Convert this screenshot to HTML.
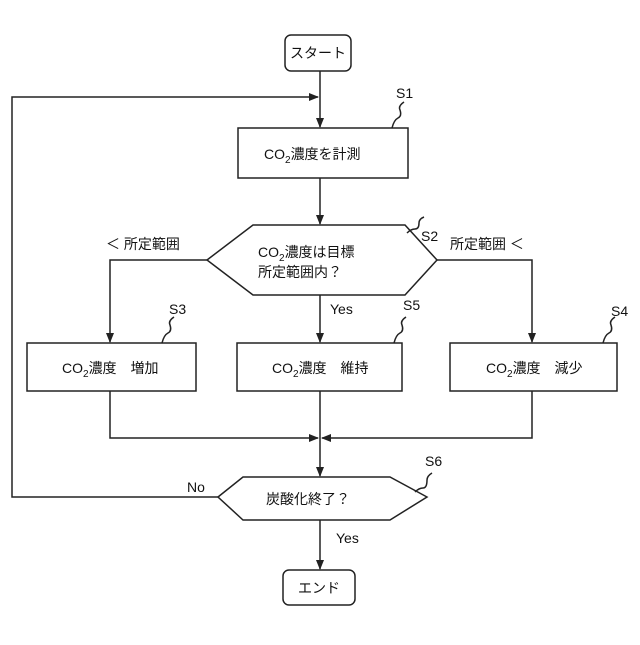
<!DOCTYPE html>
<html><head><meta charset="utf-8"><style>
body{margin:0;background:#fff}
svg text{font-family:"Liberation Sans","Noto Sans CJK JP",sans-serif;fill:#111}
</style></head><body>
<svg width="640" height="640" viewBox="0 0 640 640" xmlns="http://www.w3.org/2000/svg">
<defs><marker id="a" markerWidth="10" markerHeight="10" refX="9" refY="5" orient="auto" markerUnits="userSpaceOnUse"><path d="M0,1 L10,5 L0,9 z" fill="#222"/></marker></defs>
<g stroke="#222" stroke-width="1.5" fill="none">
<rect x="285" y="35" width="66" height="36" rx="6" fill="#fff"/>
<line x1="320" y1="71" x2="320" y2="127" marker-end="url(#a)"/>
<polyline points="218,497 12,497 12,97 318,97" marker-end="url(#a)"/>
<rect x="238" y="128" width="170" height="50" fill="#fff"/>
<line x1="320" y1="178" x2="320" y2="224" marker-end="url(#a)"/>
<polygon points="207,260 253,225 405,225 437,260 405,295 253,295" fill="#fff"/>
<polyline points="207,260 110,260 110,342" marker-end="url(#a)"/>
<polyline points="437,260 532,260 532,342" marker-end="url(#a)"/>
<line x1="320" y1="295" x2="320" y2="342" marker-end="url(#a)"/>
<rect x="27" y="343" width="169" height="48" fill="#fff"/>
<rect x="237" y="343" width="165" height="48" fill="#fff"/>
<rect x="450" y="343" width="167" height="48" fill="#fff"/>
<polyline points="110,391 110,438 318,438" marker-end="url(#a)"/>
<polyline points="532,391 532,438 322,438" marker-end="url(#a)"/>
<line x1="320" y1="391" x2="320" y2="476" marker-end="url(#a)"/>
<polygon points="218,497 243,477 390,477 427,497 390,520 243,520" fill="#fff"/>
<line x1="320" y1="520" x2="320" y2="569" marker-end="url(#a)"/>
<rect x="283" y="570" width="72" height="35" rx="6" fill="#fff"/>
<path d="M392,128 q2,-8 6,-10 q4,-2 2,-8 q-2,-4 4,-8"/>
<path d="M407,233 q4,-4 8,-4 q4,0 4,-6 q0,-4 5,-6"/>
<path d="M162,343 q2,-8 6,-10 q4,-2 2,-8 q-2,-4 4,-8"/>
<path d="M394,343 q2,-8 6,-10 q4,-2 2,-8 q-2,-4 4,-8"/>
<path d="M603,343 q2,-8 6,-10 q4,-2 2,-8 q-2,-4 4,-8"/>
<path d="M415,492 q4,-4 8,-4 q4,0 4,-8 q0,-4 5,-7"/>
</g>
<g font-size="14">
<text x="318" y="58" text-anchor="middle">スタート</text>
<text x="264" y="159">CO<tspan font-size="10" dy="4">2</tspan><tspan dy="-4">濃度を計測</tspan></text>
<text x="258" y="257">CO<tspan font-size="10" dy="4">2</tspan><tspan dy="-4">濃度は目標</tspan></text>
<text x="258" y="277">所定範囲内？</text>
<text x="106" y="249">＜ 所定範囲</text>
<text x="450" y="249">所定範囲 ＜</text>
<text x="330" y="314">Yes</text>
<text x="62" y="373">CO<tspan font-size="10" dy="4">2</tspan><tspan dy="-4">濃度　増加</tspan></text>
<text x="272" y="373">CO<tspan font-size="10" dy="4">2</tspan><tspan dy="-4">濃度　維持</tspan></text>
<text x="486" y="373">CO<tspan font-size="10" dy="4">2</tspan><tspan dy="-4">濃度　減少</tspan></text>
<text x="266" y="504">炭酸化終了？</text>
<text x="187" y="492">No</text>
<text x="336" y="543">Yes</text>
<text x="319" y="593" text-anchor="middle">エンド</text>
<text x="396" y="98">S1</text>
<text x="421" y="241">S2</text>
<text x="169" y="314">S3</text>
<text x="403" y="310">S5</text>
<text x="611" y="316">S4</text>
<text x="425" y="466">S6</text>
</g>
</svg>
</body></html>
